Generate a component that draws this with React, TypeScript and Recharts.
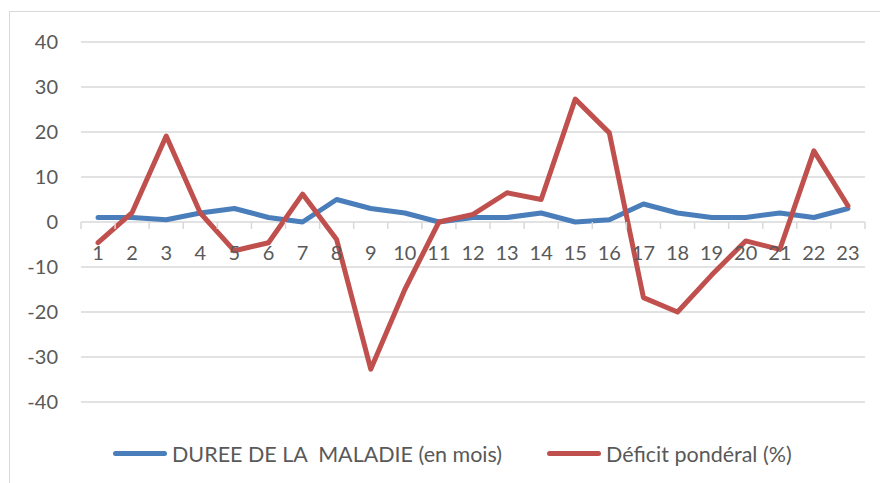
import React from 'react';
import { LineChart, Line, XAxis, YAxis, CartesianGrid, Legend } from 'recharts';

const categories = ['1', '2', '3', '4', '5', '6', '7', '8', '9', '10', '11', '12', '13', '14', '15', '16', '17', '18', '19', '20', '21', '22', '23'];
const dureeMaladie = [1, 1, 0.5, 2, 3, 1, 0, 5, 3, 2, 0, 1, 1, 2, 0, 0.5, 4, 2, 1, 1, 2, 1, 3];
const deficitPonderal = [-4.6, 2.1, 19.1, 2, -6.4, -4.6, 6.2, -3.9, -32.7, -15, 0, 1.7, 6.5, 5, 27.3, 19.8, -16.8, -20, -11.8, -4.2, -6.1, 15.8, 3.6];
const yTicks = [-40, -30, -20, -10, 0, 10, 20, 30, 40];

const SERIES = [
  { key: 'duree', name: 'DUREE DE LA  MALADIE (en mois)', color: '#4a7ebb' },
  { key: 'deficit', name: 'Déficit pondéral (%)', color: '#c0504d' },
];

const data = categories.map((c, i) => ({
  cat: c,
  duree: dureeMaladie[i],
  deficit: deficitPonderal[i],
}));

const W = 880;
const H = 483;
const MARGIN = { top: 42, right: 15, left: 0, bottom: 20 };
const PLOT_H = 360;
const Y_MIN = -40;
const Y_MAX = 40;
const ZERO_Y = MARGIN.top + (PLOT_H * Y_MAX) / (Y_MAX - Y_MIN);
const BAND = (W - MARGIN.right - 81) / categories.length;
const FONT = 'Lato, "Open Sans", sans-serif';
const TEXT = '#595959';
const GRID = '#d9d9d9';

// category labels sit on the zero line, like Excel does
const CatTick = (props: any) => {
  const { x, index, payload } = props;
  const last = index === categories.length - 1;
  return (
    <g>
      <line x1={x - BAND / 2} x2={x - BAND / 2} y1={ZERO_Y} y2={ZERO_Y + 7} stroke={GRID} strokeWidth={1.5} />
      {last && <line x1={x + BAND / 2} x2={x + BAND / 2} y1={ZERO_Y} y2={ZERO_Y + 7} stroke={GRID} strokeWidth={1.5} />}
      <text x={x} y={ZERO_Y + 38} textAnchor="middle" fill={TEXT} fontSize={20} fontFamily={FONT}>
        {payload.value}
      </text>
    </g>
  );
};

const LegendContent = () => (
  <div
    style={{
      height: 60,
      boxSizing: 'border-box',
      paddingTop: 41,
      paddingLeft: 113,
      display: 'flex',
      fontFamily: FONT,
      fontSize: 21.5,
      color: TEXT,
      lineHeight: '20px',
    }}
  >
    {SERIES.map((s, i) => (
      <div key={s.key} style={{ display: 'flex', alignItems: 'center', width: i === 0 ? 434 : 'auto' }}>
        <span style={{ display: 'inline-block', width: 54, height: 5, borderRadius: 3, background: s.color, marginRight: 5 }} />
        <span style={{ whiteSpace: 'pre' }}>{s.name}</span>
      </div>
    ))}
  </div>
);

export default function App() {
  return (
    <div style={{ position: 'absolute', left: 0, top: 0, width: W, height: H, overflow: 'hidden', background: '#fff' }}>
      <div style={{ position: 'absolute', left: 9, top: 11, width: W, height: H, border: `1px solid ${GRID}` }} />
      <div style={{ position: 'absolute', left: 0, top: 0 }}>
        <LineChart width={W} height={H} data={data} margin={MARGIN}>
          <CartesianGrid horizontal vertical={false} stroke={GRID} strokeWidth={1.5} />
          <XAxis
            dataKey="cat"
            height={1}
            axisLine={false}
            tickLine={false}
            interval={0}
            padding={{ left: BAND / 2, right: BAND / 2 }}
            tick={<CatTick />}
          />
          <YAxis
            type="number"
            domain={[Y_MIN, Y_MAX]}
            ticks={yTicks}
            width={81}
            axisLine={false}
            tickLine={false}
            tickSize={0}
            tickMargin={23}
            tick={{ fill: TEXT, fontSize: 20, fontFamily: FONT }}
          />
          <Legend verticalAlign="bottom" content={<LegendContent />} />
          {SERIES.map((s) => (
            <Line
              key={s.key}
              type="linear"
              dataKey={s.key}
              name={s.name}
              stroke={s.color}
              strokeWidth={5}
              strokeLinejoin="round"
              strokeLinecap="round"
              dot={false}
              isAnimationActive={false}
            />
          ))}
        </LineChart>
      </div>
    </div>
  );
}
